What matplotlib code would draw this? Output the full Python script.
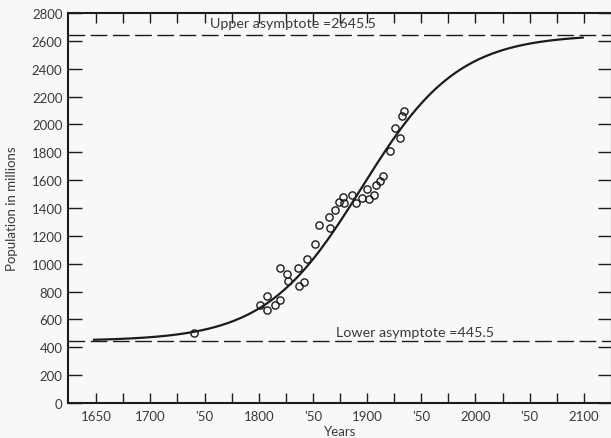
import numpy as np
import matplotlib
matplotlib.use("Agg")
import matplotlib.pyplot as plt

# Observed world population estimates (year, millions)
obs_years = [1740, 1801, 1808, 1808, 1815, 1820, 1820, 1826, 1827, 1837,
             1842, 1836, 1845, 1852, 1856, 1866, 1865, 1870, 1874, 1878,
             1879, 1886, 1890, 1895, 1900, 1902, 1906, 1908, 1912, 1915,
             1921, 1926, 1930, 1932, 1934]
obs_pop = [500, 706, 768, 666, 706, 740, 971, 928, 874, 840,
           871, 967, 1034, 1144, 1280, 1256, 1338, 1388, 1441, 1481,
           1438, 1491, 1436, 1470, 1534, 1467, 1495, 1565, 1596, 1628,
           1809, 1977, 1900, 2063, 2096]

# Fitted logistic: asymptotes, rate and point of inflection
lower_asym = 445.5
upper_asym = 2645.5
rate = 0.0225
midpoint = 1895
curve_start, curve_end = 1648, 2099

x_ticks = list(range(1650, 2101, 25))
x_labels = ["1650", "", "1700", "", "'50", "", "1800", "", "'50", "",
            "1900", "", "'50", "", "2000", "", "'50", "", "2100"]
y_ticks = list(range(0, 2801, 200))

ink = "#1c1c1c"
txt = "#3a3a3a"
plt.rcParams["font.family"] = ["Lato", "DejaVu Sans"]

fig = plt.figure(figsize=(6.11, 4.39), dpi=100, facecolor="#f8f8f8")
ax = fig.add_axes([68 / 611, 35 / 439, 544 / 611, 390 / 439])
ax.set_facecolor("#f8f8f8")

t = np.linspace(curve_start, curve_end, 400)
pop = lower_asym + (upper_asym - lower_asym) / (1 + np.exp(-rate * (t - midpoint)))
ax.plot(t, pop, color=ink, lw=1.6, zorder=3)

ax.plot(obs_years, obs_pop, linestyle="none", marker="o", markersize=5.2,
        markerfacecolor="none", markeredgecolor=ink, markeredgewidth=1.0, zorder=4)

for level in (upper_asym, lower_asym):
    ax.axhline(level, color=ink, lw=1.0, dashes=(12, 4), zorder=2)

ax.text(1832, 2726, "Upper asymptote =2645.5", ha="center", va="center",
        fontsize=10.3, color=txt)
ax.text(1944, 510, "Lower asymptote =445.5", ha="center", va="center",
        fontsize=10.3, color=txt)

ax.set_xlim(1624, 2126)
ax.set_ylim(0, 2800)
ax.set_xticks(x_ticks)
ax.set_xticklabels(x_labels)
ax.set_yticks(y_ticks)

ax.tick_params(axis="x", direction="in", length=7, width=1.0, color=ink,
               top=True, labelsize=9.5, labelcolor=txt, pad=5)
ax.tick_params(axis="y", direction="in", length=10, width=1.0, color=ink,
               right=True, labelsize=9.5, labelcolor=txt, pad=4)

for side in ("left", "bottom", "top", "right"):
    ax.spines[side].set_linewidth(1.5)
    ax.spines[side].set_color(ink)

ax.set_xlabel("Years", fontsize=9.5, color=txt, labelpad=2)
ax.set_ylabel("Population in millions", fontsize=9.5, color=txt, labelpad=10)

fig.savefig("out.png", dpi=100, facecolor=fig.get_facecolor())
